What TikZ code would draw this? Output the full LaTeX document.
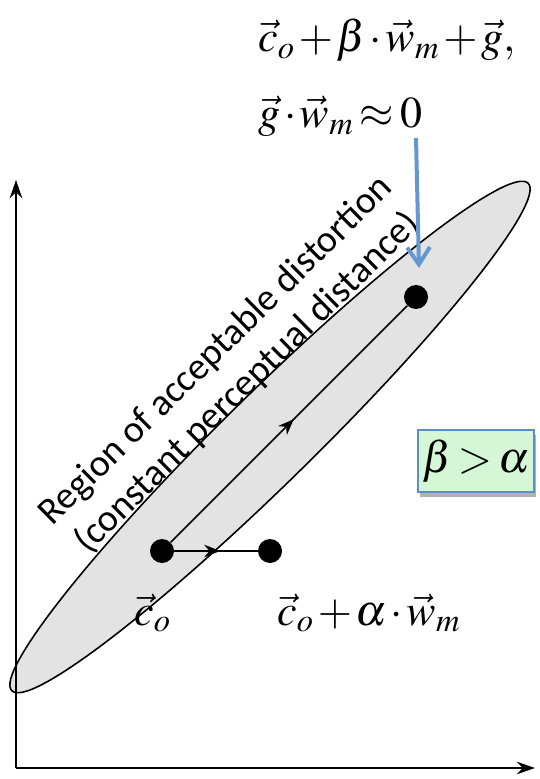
\documentclass[tikz,border=0pt]{standalone}
\usepackage[no-math]{fontspec}
\usepackage{mathptmx}
\newfontfamily\regionfont{Carlito}
\usetikzlibrary{arrows.meta,decorations.markings,shadows}

\definecolor{gvecblue}{RGB}{100,152,206}
\definecolor{boxgreen}{RGB}{214,247,214}
\definecolor{boxblue}{RGB}{92,142,200}

\begin{document}
\medmuskip=1.5mu\relax
\thickmuskip=2.5mu\relax
\begin{tikzpicture}[
  x=0.5pt, y=-0.5pt,
  axis/.style={-{Stealth[length=3.2mm,width=2.2mm]}, line width=1pt},
  region/.style={fill=gray!22, draw, line width=0.8pt},
  dot/.style={circle, fill=black, inner sep=0pt, minimum size=12pt},
  midarr/.style={line width=0.8pt, postaction={decorate},
    decoration={markings, mark=at position #1 with {\arrow{Stealth[length=2.8mm,width=2.2mm]}}}},
  lbl/.style={font=\fontsize{22}{27}\selectfont, inner sep=0pt, anchor=base west},
  regionlbl/.style={font=\regionfont\fontsize{19}{22.5}\selectfont, align=center, inner sep=0pt},
  ineqbox/.style={draw=boxblue, fill=boxgreen, line width=0.9pt, minimum width=58pt,
    minimum height=31pt, inner sep=0pt, font=\fontsize{22}{27}\selectfont,
    drop shadow={shadow xshift=1pt, shadow yshift=-2.5pt, fill=black, opacity=0.3}},
  gvec/.style={-{Straight Barb[length=3mm,width=4mm]}, line width=2pt, draw=gvecblue}
]
\useasboundingbox (0,0) rectangle (539,779);

% region of acceptable distortion
\draw[region, shift={(270,437)}, rotate=44.5] (0,0) ellipse [x radius=362, y radius=45];
\node[regionlbl, rotate=44.6] (regiontxt) at (232,367) {Region of acceptable distortion\\(constant perceptual distance)};

% axes
\coordinate (origin) at (16,768);
\coordinate (ytip) at (16,180);
\coordinate (xtip) at (535,768);
\draw[axis] (origin) -- (ytip);
\draw[axis] (origin) -- (xtip);

% points
\node[dot] (co) at (162,551) {};
\node[dot] (calpha) at (270,551) {};
\node[dot] (cbeta) at (416,297) {};
\draw[midarr=0.55] (co) -- (calpha);
\draw[midarr=0.52] (co) -- (cbeta);

% labels
\node[lbl] (lblbeta) at (258,52) {$\vec{c}_o+\beta\cdot\vec{w}_m+\vec{g},$};
\node[lbl] (lblperp) at (258,128) {$\vec{g}\cdot\vec{w}_m\approx 0$};
\node[lbl] (lblco) at (134,625) {$\vec{c}_o$};
\node[lbl] (lblalpha) at (277,625) {$\vec{c}_o+\alpha\cdot\vec{w}_m$};
\node[ineqbox] (ineq) at (476,461) {$\beta>\alpha$};

% pointer to beta point
\coordinate (gtail) at (416,138);
\coordinate (ghead) at (419,268);
\draw[gvec] (gtail) -- (ghead);
\end{tikzpicture}
\end{document}
